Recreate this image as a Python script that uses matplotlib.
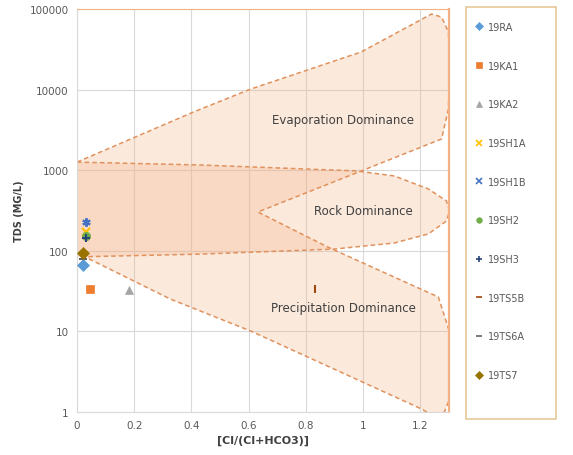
import matplotlib.pyplot as plt
from matplotlib.lines import Line2D
from matplotlib.patches import Polygon, Rectangle

# sample points
samples = ['19RA', '19KA1', '19KA2', '19SH1A', '19SH1B',
           '19SH2', '19SH3', '19TS5B', '19TS6A', '19TS7']
cl_ratio = [0.02, 0.045, 0.18, 0.03, 0.03, 0.03, 0.03, 0.83, 0.02, 0.02]
tds = [67, 34, 33, 170, 228, 152, 145, 34, 80, 95]
colors = ['#5b9bd5', '#ed7d31', '#a5a5a5', '#ffc000', '#4472c4',
          '#70ad47', '#264478', '#9e480e', '#636363', '#997300']
markers = ['D', 's', '^', 'x', (6, 2, 0), 'o', '+', '|', '_', 'D']
legend_markers = ['D', 's', '^', 'x', 'x', 'o', '+', '_', '_', 'D']

# Gibbs diagram outlines (ratio, TDS)
boomerang_x = [0, 0.407, 0.607, 0.993, 1.239, 1.274, 1.298, 1.302, 1.298, 1.274,
               0.993, 0.632, 0.877, 1.263, 1.302, 1.302, 1.284, 1.246, 1.204,
               0.61, 0.326, 0.028, 0]
boomerang_y = [1260, 5270, 10160, 29300, 86700, 79500, 51900, 19600, 5740, 2440,
               977, 303, 111, 26.7, 9.8, 1.45, 1.0, 0.89, 1.09,
               10, 25.2, 84, 91]
rock_x = [0, 0.432, 0.975, 1.109, 1.228, 1.291, 1.302, 1.291, 1.228, 1.109,
          0.898, 0.432, 0]
rock_y = [1260, 1160, 980, 848, 585, 415, 312, 234, 162, 125, 105, 91, 84]

W, H = 573, 456
fig = plt.figure(figsize=(W / 100, H / 100), dpi=100)
ax = fig.add_axes([77 / W, 1 - 413 / H, 372 / W, 403 / H])

fill_kw = dict(facecolor='#f4b183', alpha=0.28, edgecolor='none', zorder=1)
line_kw = dict(fill=False, edgecolor='#e0915c', linestyle=(0, (3, 2)), linewidth=1.1, zorder=2)
for xs, ys in [(boomerang_x, boomerang_y), (rock_x, rock_y)]:
    pts = list(zip(xs, ys))
    ax.add_patch(Polygon(pts, closed=True, **fill_kw))
    ax.add_patch(Polygon(pts, closed=True, **line_kw))

for x, y, c, m in zip(cl_ratio, tds, colors, markers):
    ax.plot(x, y, linestyle='none', marker=m, color=c, markersize=6,
            markeredgewidth=1.5 if m in ('x', '+', '|', '_', (6, 2, 0)) else 0.5, zorder=4)

txt_kw = dict(ha='center', va='center', fontsize=8.5, color='#404040')
ax.text(0.93, 4200, 'Evaporation Dominance', **txt_kw)
ax.text(1.0, 320, 'Rock Dominance', **txt_kw)
ax.text(0.93, 20, 'Precipitation Dominance', **txt_kw)

ax.set_yscale('log')
ax.set_xlim(0, 1.3)
ax.set_ylim(1, 100000)
ax.set_xticks([0, 0.2, 0.4, 0.6, 0.8, 1.0, 1.2])
ax.set_xticklabels(['0', '0.2', '0.4', '0.6', '0.8', '1', '1.2'])
ax.set_yticks([1, 10, 100, 1000, 10000, 100000])
ax.set_yticklabels(['1', '10', '100', '1000', '10000', '100000'])
ax.minorticks_off()
ax.tick_params(length=0, labelsize=7.5, labelcolor='#595959', pad=6)
ax.grid(True, color='#d9d9d9', linewidth=0.8, zorder=0)
ax.set_axisbelow(True)
for s in ['left', 'bottom']:
    ax.spines[s].set_color('#d9d9d9')
for s in ['top', 'right']:
    ax.spines[s].set_color('#f4b183')
ax.spines['right'].set_linewidth(1.6)

ax.set_xlabel('[Cl/(Cl+HCO3)]', fontsize=8, fontweight='bold', color='#404040', labelpad=3)
ax.set_ylabel('TDS (MG/L)', fontsize=7, fontweight='bold', color='#404040', labelpad=4)

# legend box
fig.patches.append(Rectangle((466 / W, 1 - 420 / H), 90 / W, 412 / H,
                             transform=fig.transFigure, facecolor='white',
                             edgecolor='#e6c89a', linewidth=1.2))
handles = [Line2D([], [], linestyle='none', marker=m, color=c, markersize=4,
                  markeredgewidth=1.2 if m in ('x', '+', '_') else 0.5)
           for m, c in zip(legend_markers, colors)]
fig.legend(handles, samples, loc='upper left', bbox_to_anchor=(470 / W, 1 - 18 / H),
           frameon=False, fontsize=7, labelcolor='#595959', labelspacing=2.95,
           handlelength=0.8, handletextpad=0.5, borderpad=0)

fig.savefig('out.png', dpi=100)
